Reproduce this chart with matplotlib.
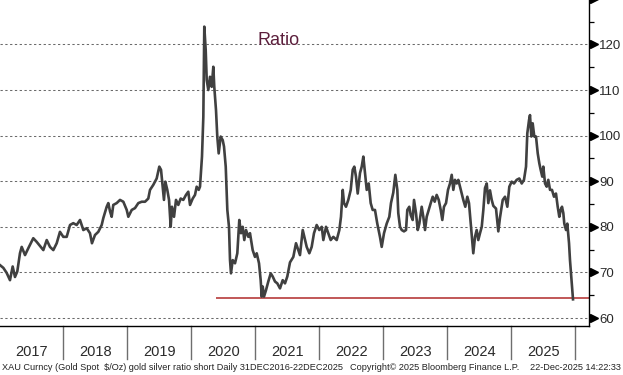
import matplotlib
matplotlib.use("Agg")
import matplotlib.pyplot as plt
import matplotlib.transforms as mtransforms

plt.rcParams['font.family'] = ['Liberation Sans', 'DejaVu Sans']

# ---- data (decimal years, gold/silver ratio) ----
dates = [
    2017.008, 2017.060, 2017.112, 2017.164, 2017.206, 2017.242, 2017.278, 2017.320, 2017.347, 2017.399,
    2017.450, 2017.528, 2017.581, 2017.633, 2017.685, 2017.738, 2017.789, 2017.841, 2017.894, 2017.945,
    2017.997, 2018.050, 2018.102, 2018.153, 2018.206, 2018.258, 2018.310, 2018.363, 2018.414, 2018.445,
    2018.492, 2018.544, 2018.597, 2018.622, 2018.675, 2018.700, 2018.727, 2018.753, 2018.778, 2018.831,
    2018.883, 2018.935, 2018.988, 2019.013, 2019.066, 2019.117, 2019.169, 2019.222, 2019.274, 2019.325,
    2019.352, 2019.403, 2019.456, 2019.497, 2019.524, 2019.550, 2019.570, 2019.591, 2019.622, 2019.649,
    2019.675, 2019.695, 2019.727, 2019.758, 2019.794, 2019.831, 2019.872, 2019.914, 2019.950, 2019.977,
    2020.019, 2020.055, 2020.081, 2020.113, 2020.133, 2020.164, 2020.185, 2020.200, 2020.222, 2020.238,
    2020.263, 2020.289, 2020.316, 2020.341, 2020.356, 2020.383, 2020.403, 2020.425, 2020.456, 2020.488,
    2020.508, 2020.535, 2020.560, 2020.586, 2020.602, 2020.617, 2020.644, 2020.680, 2020.716, 2020.747,
    2020.774, 2020.800, 2020.825, 2020.852, 2020.888, 2020.914, 2020.956, 2020.992, 2021.019, 2021.055,
    2021.081, 2021.097, 2021.113, 2021.133, 2021.164, 2021.200, 2021.238, 2021.269, 2021.305, 2021.341,
    2021.383, 2021.425, 2021.461, 2021.497, 2021.539, 2021.591, 2021.633, 2021.669, 2021.695, 2021.738,
    2021.774, 2021.800, 2021.841, 2021.878, 2021.914, 2021.956, 2021.997, 2022.035, 2022.060, 2022.102,
    2022.138, 2022.175, 2022.216, 2022.269, 2022.310, 2022.336, 2022.363, 2022.383, 2022.414, 2022.450,
    2022.488, 2022.519, 2022.544, 2022.570, 2022.597, 2022.633, 2022.660, 2022.685, 2022.706, 2022.738,
    2022.769, 2022.800, 2022.831, 2022.867, 2022.903, 2022.945, 2022.972, 2023.008, 2023.050, 2023.091,
    2023.117, 2023.153, 2023.185, 2023.216, 2023.231, 2023.258, 2023.285, 2023.320, 2023.352, 2023.372,
    2023.403, 2023.425, 2023.456, 2023.477, 2023.508, 2023.535, 2023.560, 2023.597, 2023.622, 2023.649,
    2023.675, 2023.706, 2023.738, 2023.769, 2023.800, 2023.831, 2023.863, 2023.894, 2023.919, 2023.945,
    2023.977, 2024.008, 2024.039, 2024.066, 2024.091, 2024.117, 2024.144, 2024.169, 2024.195, 2024.222,
    2024.247, 2024.278, 2024.310, 2024.336, 2024.363, 2024.383, 2024.403, 2024.430, 2024.456, 2024.481,
    2024.508, 2024.535, 2024.560, 2024.586, 2024.613, 2024.638, 2024.664, 2024.691, 2024.716, 2024.758,
    2024.794, 2024.820, 2024.863, 2024.899, 2024.935, 2024.966, 2025.003, 2025.039, 2025.081, 2025.122,
    2025.160, 2025.195, 2025.227, 2025.247, 2025.274, 2025.289, 2025.310, 2025.331, 2025.356, 2025.383,
    2025.410, 2025.435, 2025.456, 2025.481, 2025.497, 2025.524, 2025.550, 2025.575, 2025.602, 2025.633,
    2025.664, 2025.695, 2025.722, 2025.747, 2025.769, 2025.789, 2025.810, 2025.825, 2025.852, 2025.872,
    2025.899, 2025.914, 2025.930, 2025.945, 2025.961,
]
ratio = [
    71.6, 71.0, 69.9, 68.3, 71.3, 69.0, 70.2, 74.2, 75.6, 73.8,
    75.3, 77.5, 76.7, 75.8, 74.9, 77.1, 75.6, 74.9, 76.4, 78.9,
    77.8, 77.8, 80.4, 80.8, 80.4, 81.5, 79.3, 79.7, 78.6, 76.4,
    78.2, 78.9, 80.4, 81.9, 84.4, 85.2, 83.4, 82.2, 84.8, 85.2,
    85.9, 85.5, 83.7, 82.2, 83.7, 84.1, 85.2, 85.5, 85.5, 86.2,
    88.1, 89.2, 90.6, 93.2, 92.5, 88.8, 85.9, 89.9, 88.1, 85.9,
    80.0, 84.4, 82.2, 85.9, 84.8, 86.2, 85.9, 87.0, 87.7, 84.8,
    86.2, 87.0, 88.8, 88.1, 88.8, 95.4, 104.1, 123.9, 118.8, 112.2,
    110.0, 112.9, 110.7, 115.1, 110.7, 105.6, 99.8, 96.1, 99.8, 99.0,
    97.6, 93.2, 83.7, 80.0, 72.7, 69.8, 72.7, 72.0, 74.2, 81.5,
    78.6, 80.0, 77.1, 79.3, 77.8, 78.6, 74.9, 73.4, 74.2, 72.0,
    68.3, 64.7, 66.9, 64.7, 66.1, 68.0, 69.8, 69.1, 68.0, 67.6,
    66.5, 68.3, 67.6, 69.1, 72.2, 73.4, 76.4, 74.9, 73.8, 79.3,
    77.1, 75.6, 74.2, 75.6, 78.6, 80.4, 79.3, 80.0, 77.1, 80.0,
    78.6, 77.1, 77.8, 77.1, 79.3, 82.2, 88.1, 85.2, 84.4, 85.9,
    88.1, 92.5, 93.2, 91.0, 87.3, 91.8, 93.2, 95.4, 92.5, 88.1,
    89.5, 85.2, 83.7, 83.7, 80.7, 77.8, 75.6, 78.6, 80.7, 82.2,
    85.2, 87.5, 91.4, 88.1, 83.0, 80.0, 79.3, 79.0, 79.3, 83.7,
    84.4, 82.6, 81.5, 85.9, 83.0, 79.3, 80.7, 84.4, 82.2, 79.3,
    82.2, 83.7, 85.2, 86.6, 85.5, 87.0, 85.9, 83.7, 81.5, 84.4,
    85.2, 88.1, 89.5, 91.4, 88.1, 90.3, 89.5, 90.3, 88.8, 87.3,
    85.9, 84.4, 86.6, 85.2, 80.7, 77.1, 74.2, 77.8, 79.3, 77.1,
    78.6, 80.0, 83.7, 88.5, 89.5, 85.2, 88.0, 85.9, 84.6, 84.0,
    79.0, 82.0, 85.9, 86.6, 84.4, 88.8, 89.9, 89.5, 90.3, 90.6,
    89.5, 90.3, 93.2, 100.5, 103.4, 104.5, 99.8, 102.7, 99.8, 99.8,
    96.1, 93.9, 92.5, 91.0, 93.2, 89.5, 88.8, 90.3, 88.1, 88.1,
    86.6, 87.3, 84.4, 82.2, 83.7, 84.4, 83.0, 80.7, 79.3, 80.7,
    76.4, 72.7, 69.8, 66.9, 64.1,
]
years = [2017, 2018, 2019, 2020, 2021, 2022, 2023, 2024, 2025]
yticks = [60, 70, 80, 90, 100, 110, 120]
ytick_arrows = [60, 70, 80, 90, 100, 110, 120, 130]
ytick_minor = [65, 75, 85, 95, 105, 115, 125]
support_level = 64.3
support_start = 2020.38
title = "Ratio"
footer_left = "XAU Curncy (Gold Spot  $/Oz) gold silver ratio short Daily 31DEC2016-22DEC2025"
footer_mid = "Copyright\u00a9 2025 Bloomberg Finance L.P."
footer_right = "22-Dec-2025 14:22:33"

# ---- figure ----
W, H = 623, 375
fig = plt.figure(figsize=(W / 100, H / 100), dpi=100)
ax = fig.add_axes([0, 1 - 326 / H, 589 / W, 326 / H])
x0, x1 = 2017.008, 2026.211
ax.set_xlim(x0, x1)
ax.set_ylim(58.25, 129.74)

for v in yticks:
    ax.axhline(v, color='#6a6a6a', lw=0.75, ls=(0, (2.2, 2.4)), zorder=1)

ax.plot(dates, ratio, color='#404040', lw=1.9, solid_joinstyle='round', zorder=3)
ax.hlines(support_level, support_start, x1, color='#b02a2a', lw=1.1, zorder=2)

for s in ['left', 'top']:
    ax.spines[s].set_visible(False)
for s in ['right', 'bottom']:
    ax.spines[s].set_color('black')
    ax.spines[s].set_linewidth(1.0)

ax.set_xticks([])
ax.yaxis.tick_right()
ax.set_yticks(yticks)
ax.set_yticklabels([str(v) for v in yticks])
ax.set_yticks(ytick_minor, minor=True)
ax.tick_params(axis='y', which='major', length=0, pad=7.5, labelsize=9.5, labelcolor='#2a2a2a')
ax.tick_params(axis='y', which='minor', length=3.6, width=0.9, color='black', direction='out')

# arrow-shaped major ticks
offset = mtransforms.ScaledTranslation(4.5 / 100, 0, fig.dpi_scale_trans)
ax.plot([1.0] * len(ytick_arrows), ytick_arrows, ls='none', marker='>', ms=6.0,
        color='black', transform=ax.get_yaxis_transform() + offset, clip_on=False)

# year band below axis
band = 33 / 326
xt = ax.get_xaxis_transform()
for y in years:
    b = y + 1
    ax.plot([b, b], [0, -band], color='#6e6e6e', lw=1.0, transform=xt, clip_on=False)
    ax.text(y + 0.5, -26 / 326, str(y), transform=xt, ha='center', va='center',
            fontsize=10.5, color='#2a2a2a')

fig.text(257.5 / W, 1 - 45 / H, title, fontsize=13, color='#5c1f3c', ha='left', va='baseline')

fy = 1 - 368 / H
fig.text(2 / W, fy, footer_left, fontsize=6.6, color='#222222', ha='left', va='center')
fig.text(350 / W, fy, footer_mid, fontsize=6.6, color='#222222', ha='left', va='center')
fig.text(621 / W, fy, footer_right, fontsize=6.6, color='#222222', ha='right', va='center')

fig.savefig('out.png', dpi=100)
